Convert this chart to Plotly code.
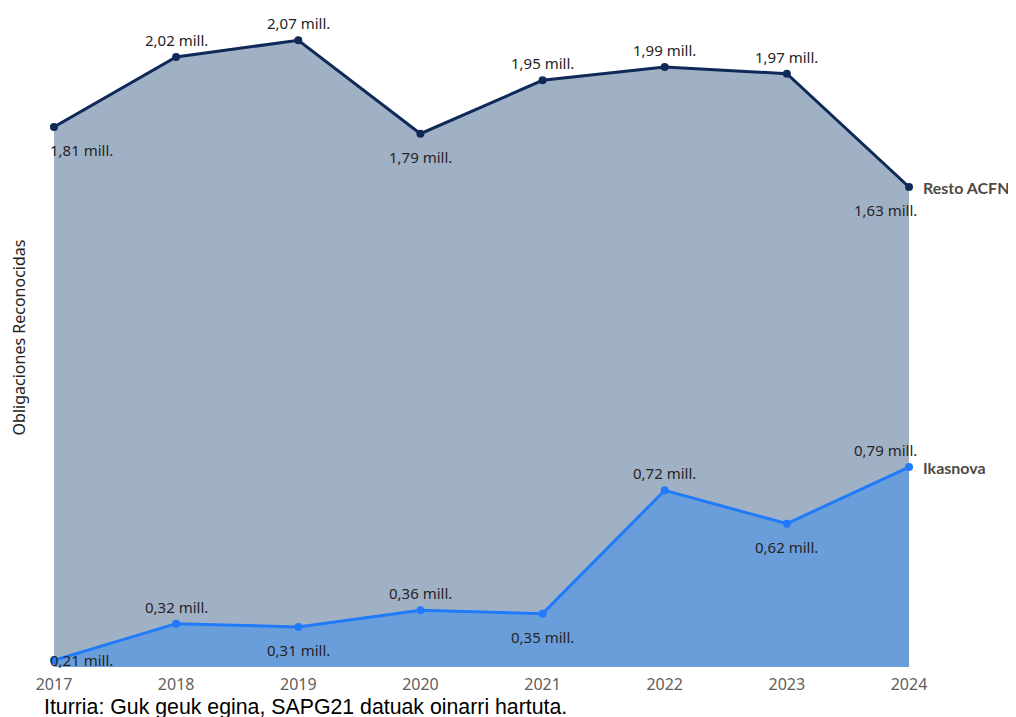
import plotly.graph_objects as go

years = [2017, 2018, 2019, 2020, 2021, 2022, 2023, 2024]
resto = [1.81, 2.02, 2.07, 1.79, 1.95, 1.99, 1.97, 1.63]
ikasnova = [0.21, 0.32, 0.31, 0.36, 0.35, 0.72, 0.62, 0.79]
resto_side = ["below", "above", "above", "below", "above", "above", "above", "below"]
ikas_side = ["middle", "above", "below", "above", "below", "above", "below", "above"]


def fmt(v):
    return f"{v:.2f}".replace(".", ",") + " mill."


FONT = "Noto Sans"
fig = go.Figure()
fig.add_trace(go.Scatter(
    x=years, y=resto, mode="lines+markers", name="Resto ACFN",
    fill="tozeroy", fillcolor="#A1B1C5", cliponaxis=False,
    line=dict(color="#0F2A58", width=3), marker=dict(size=8, color="#0F2A58"),
))
fig.add_trace(go.Scatter(
    x=years, y=ikasnova, mode="lines+markers", name="Ikasnova",
    fill="tozeroy", fillcolor="#6A9EDA", cliponaxis=False,
    line=dict(color="#1F7BFA", width=3), marker=dict(size=8, color="#1F7BFA"),
))

yshift_map = {"above": 17, "below": -23, "middle": 0}
for vals, sides in [(resto, resto_side), (ikasnova, ikas_side)]:
    n = len(years)
    for i, (yr, v, s) in enumerate(zip(years, vals, sides)):
        xs = 27 if i == 0 else (-24 if i == n - 1 else 0)
        fig.add_annotation(x=yr, y=v, xref="x", yref="y", text=fmt(v),
                           showarrow=False, xanchor="center", yanchor="middle",
                           xshift=xs, yshift=yshift_map[s],
                           font=dict(family=FONT, size=15, color="#252423"))

for name, vals in [("Resto ACFN", resto), ("Ikasnova", ikasnova)]:
    fig.add_annotation(x=years[-1], y=vals[-1], xref="x", yref="y",
                       text=f"<b>{name}</b>", showarrow=False,
                       xanchor="left", yanchor="middle", xshift=12,
                       font=dict(family="Lato", size=16, color="#4F4A45"))

fig.add_annotation(x=-0.014, y=-0.061, xref="paper", yref="paper",
                   text="Iturria: Guk geuk egina, SAPG21 datuak oinarri hartuta.",
                   showarrow=False, xanchor="left", yanchor="middle",
                   font=dict(family="Liberation Sans", size=21.3, color="#000000"))

fig.update_layout(
    width=1016, height=717,
    margin=dict(l=46, r=115, t=0, b=58),
    paper_bgcolor="white", plot_bgcolor="white",
    showlegend=False,
    xaxis=dict(range=[2017, 2024], tickvals=years, ticktext=[str(y) for y in years],
               showgrid=False, zeroline=False, showline=False,
               tickfont=dict(family=FONT, size=16, color="#605E5C"), ticklabelstandoff=6),
    yaxis=dict(range=[0.19, 2.167], showticklabels=False, showgrid=False,
               zeroline=False, showline=False,
               title=dict(text="Obligaciones Reconocidas", standoff=25,
                          font=dict(family=FONT, size=16, color="#252423"))),
)

fig.write_html("out.html")
